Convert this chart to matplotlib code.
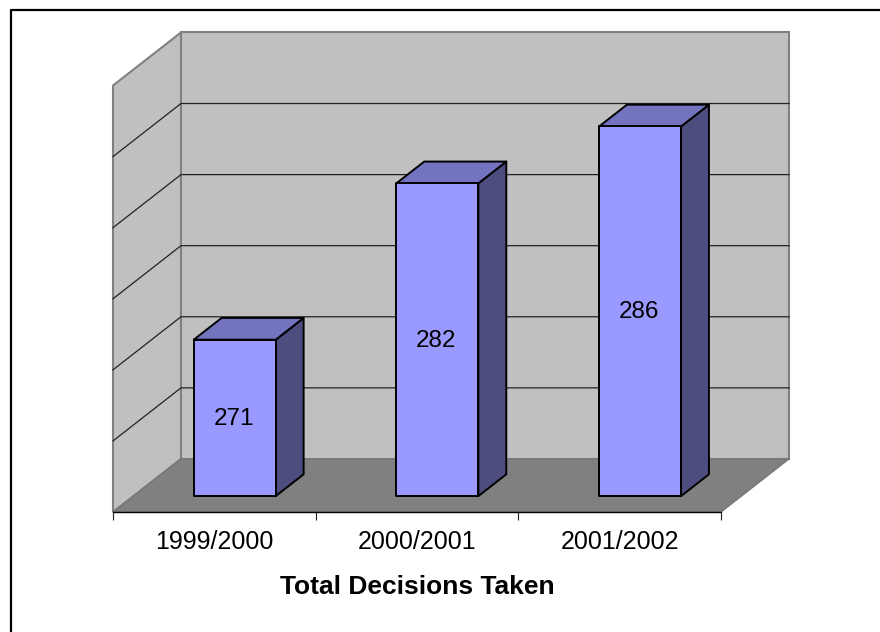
import matplotlib
matplotlib.use('Agg')
import matplotlib.pyplot as plt
from matplotlib.patches import Polygon

plt.rcParams['font.family'] = ['Liberation Sans', 'DejaVu Sans']

categories = ['1999/2000', '2000/2001', '2001/2002']
decisions = [271, 282, 286]
value_ticks = [260, 265, 270, 275, 280, 285, 290]
x_title = 'Total Decisions Taken'

# oblique look of the old 3d chart: how far "into the page" shifts a point
depth_x = 68 / 202.67
depth_y = 53 / 14.2
vmin, vmax = value_ticks[0], value_ticks[-1]
bar_w = 82 / 202.67
bar_front = 0.30
bar_back = 0.71


def proj(x, v, d=0.0):
    return (x + d * depth_x, v + d * depth_y)


def face(ax, pts, **kw):
    ax.add_patch(Polygon([proj(*p) for p in pts], closed=True, clip_on=False, **kw))


fig = plt.figure(figsize=(8.8, 6.32), dpi=100)
ax = fig.add_axes([113 / 880, 120 / 632, 608 / 880, 426.5 / 632])
ax.set_xlim(0, 3)
ax.set_ylim(vmin, vmax)
ax.patch.set_visible(False)
for s in ['left', 'right', 'top']:
    ax.spines[s].set_visible(False)
ax.spines['bottom'].set_linewidth(1.0)
ax.spines['bottom'].set_zorder(20)

# walls and floor
wall = '#c0c0c0'
edge = '#808080'
face(ax, [(0, vmin, 0), (0, vmin, 1), (0, vmax, 1), (0, vmax, 0)], fc=wall, ec=edge, lw=1.5, zorder=1)
face(ax, [(0, vmin, 1), (3, vmin, 1), (3, vmax, 1), (0, vmax, 1)], fc=wall, ec=edge, lw=1.5, zorder=1)
face(ax, [(0, vmin, 0), (3, vmin, 0), (3, vmin, 1), (0, vmin, 1)], fc='#808080', ec='#777777', lw=1.0, zorder=2)

# gridlines on both walls
for v in value_ticks[1:-1]:
    xs, ys = zip(proj(0, v, 0), proj(0, v, 1), proj(3, v, 1))
    ax.plot(xs, ys, color='#222222', lw=0.9, zorder=3, clip_on=False)

# bars
for i, (cat, val) in enumerate(zip(categories, decisions)):
    x0 = i + 0.5 - bar_w / 2
    x1 = x0 + bar_w
    style = dict(ec='black', lw=1.4, joinstyle='round')
    face(ax, [(x1, vmin, bar_front), (x1, vmin, bar_back), (x1, val, bar_back), (x1, val, bar_front)],
         fc='#4d4d80', zorder=5 + i, **style)
    face(ax, [(x0, val, bar_front), (x1, val, bar_front), (x1, val, bar_back), (x0, val, bar_back)],
         fc='#7373bf', zorder=5 + i, **style)
    face(ax, [(x0, vmin, bar_front), (x1, vmin, bar_front), (x1, val, bar_front), (x0, val, bar_front)],
         fc='#9999ff', zorder=5 + i, **style)
    cx, cy = proj((x0 + x1) / 2, (vmin + val) / 2, bar_front)
    ax.annotate(str(val), xy=(cx, cy), xytext=(-1, -1), textcoords='offset pixels',
                ha='center', va='center', fontsize=17.5, color='black', zorder=15)

# category axis
ax.set_yticks([])
ax.set_xticks(range(len(categories) + 1))
ax.set_xticklabels([])
ax.tick_params(axis='x', length=6, width=0.8, color='#222222')
for i, cat in enumerate(categories):
    ax.annotate(cat, xy=(i + 0.5, 0), xycoords=('data', 'axes fraction'), xytext=(0, -30),
                textcoords='offset pixels', ha='center', va='center', fontsize=18)
ax.annotate(x_title, xy=(1.5, 0), xycoords=('data', 'axes fraction'), xytext=(0, -75),
            textcoords='offset pixels', ha='center', va='center', fontsize=19, fontweight='bold')

# chart area border, only top and left fall inside the crop
fig.add_artist(plt.Line2D([10.5 / 880, 10.5 / 880, 1], [0, 1 - 10 / 632, 1 - 10 / 632], color='black', lw=1.6))

fig.savefig('out.png', dpi=100)
